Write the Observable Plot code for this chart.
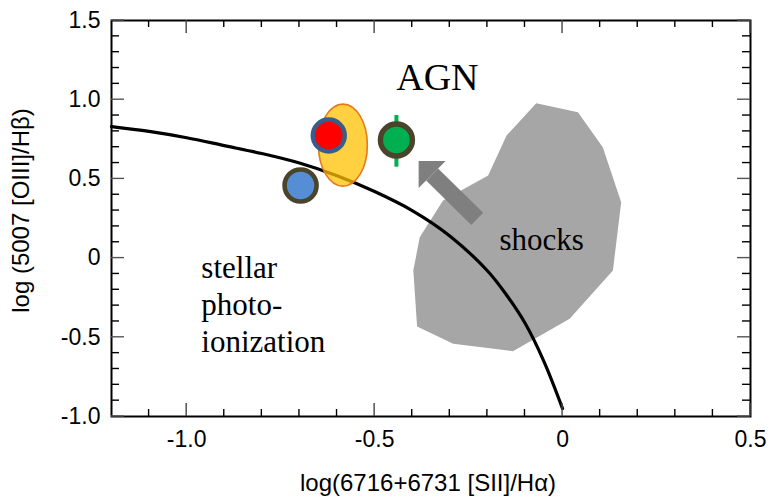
<!DOCTYPE html>
<html><head><meta charset="utf-8">
<script src="https://cdn.jsdelivr.net/npm/d3@7"></script>
<script src="https://cdn.jsdelivr.net/npm/@observablehq/plot@0.6"></script>
<style>html,body{margin:0;padding:0;background:#fff;}</style>
</head><body><div id="chart"></div>
<script>
// ---- data ----
const xTickValues = [-1.0, -0.5, 0, 0.5];
const xTickLabels = ["-1.0", "-0.5", "0", "0.5"];
const yTickValues = [-1.0, -0.5, 0, 0.5, 1.0, 1.5];
const yTickLabels = ["-1.0", "-0.5", "0", "0.5", "1.0", "1.5"];
const xMinorTicks = [-1.1, -0.9, -0.8, -0.7, -0.6, -0.4, -0.3, -0.2, -0.1, 0.1, 0.2, 0.3, 0.4];
const yMinorTicks = [-0.9, -0.8, -0.7, -0.6, -0.4, -0.3, -0.2, -0.1, 0.1, 0.2, 0.3, 0.4, 0.6, 0.7, 0.8, 0.9, 1.1, 1.2, 1.3, 1.4];

// maximum-starburst boundary
const boundaryX = [-1.2, -1.1, -1.0, -0.9, -0.8, -0.7, -0.6, -0.5, -0.4, -0.3, -0.2, -0.15, -0.1, -0.05, 0.0];
const boundaryY = [0.83, 0.80, 0.76, 0.71, 0.66, 0.60, 0.52, 0.42, 0.30, 0.14, -0.08, -0.23, -0.41, -0.65, -0.95];

// shock region outline
const shockX = [-0.070, 0.041, 0.107, 0.156, 0.134, 0.019, -0.132, -0.291, -0.387, -0.397, -0.380, -0.318, -0.198, -0.149];
const shockY = [0.978, 0.921, 0.700, 0.353, -0.078, -0.383, -0.588, -0.541, -0.432, -0.078, 0.132, 0.364, 0.521, 0.774];

// arrow (tail -> base of head)
const arrowTail = [-0.227, 0.248];
const arrowHead = [-0.347, 0.528];

// observed points
const pointNames = ["red", "blue", "green"];
const pointX = [-0.622, -0.697, -0.442];
const pointY = [0.774, 0.458, 0.746];
const greenErrY = [0.574, 0.900];

// error ellipse: center and half-axes
const ellipseCenter = [-0.583, 0.710];
const ellipseHalf = [0.065, 0.259];

// annotations
const labelText = ["AGN", "shocks", "stellar\nphoto-\nionization"];
const labelX = [-0.333, -0.168, -0.961];
const labelY = [1.064, 0.048, -0.590];

const xTitle = "log(6716+6731 [SII]/H\u03b1)";
const yTitle = "log (5007 [OIII]/H\u03b2)";

// ---- drawing ----
const shockData = shockX.map((x, i) => ({x, y: shockY[i]}));
const boundaryData = boundaryX.map((x, i) => ({x, y: boundaryY[i]}));
const points = pointNames.map((name, i) => ({name, x: pointX[i], y: pointY[i]}));
const pt = n => points.filter(d => d.name === n);

const arrowHeadSymbol = {
  draw(ctx, size) {
    const h = Math.sqrt(size / Math.PI);
    ctx.moveTo(-h, -h); ctx.lineTo(h, -h); ctx.lineTo(-h, h); ctx.closePath();
  }
};

function ellipseMark(index, scales) {
  const {x, y} = scales;
  const cx = x(ellipseCenter[0]), cy = y(ellipseCenter[1]);
  const rx = Math.abs(x(ellipseCenter[0] + ellipseHalf[0]) - cx);
  const ry = Math.abs(y(ellipseCenter[1] + ellipseHalf[1]) - cy);
  return d3.create("svg:ellipse")
    .attr("cx", cx).attr("cy", cy).attr("rx", rx).attr("ry", ry)
    .attr("fill", "#ffc000").attr("fill-opacity", 0.75)
    .attr("stroke", "#e8771e").attr("stroke-width", 1.6).node();
}

function frameTicks(index, scales, values, dims) {
  const {x, y} = scales;
  const L = dims.marginLeft, R = dims.width - dims.marginRight;
  const T = dims.marginTop, B = dims.height - dims.marginBottom;
  const g = d3.create("svg:g").attr("fill", "none").attr("stroke-width", 1.4);
  const seg = (x1, y1, x2, y2, c) => g.append("line")
    .attr("x1", x1).attr("y1", y1).attr("x2", x2).attr("y2", y2).attr("stroke", c);
  for (const v of xMinorTicks) { const p = x(v); seg(p, B, p, B - 7, "#000"); seg(p, T, p, T + 7, "#000"); }
  for (const v of xTickValues) { const p = x(v); seg(p, B, p, B - 13, "#444"); seg(p, T, p, T + 13, "#444"); }
  for (const v of yMinorTicks) { const p = y(v); seg(L, p, L + 8, p, "#000"); seg(R, p, R - 8, p, "#000"); }
  for (const v of yTickValues) { const p = y(v); seg(L, p, L + 13, p, "#555"); seg(R, p, R - 13, p, "#555"); }
  return g.node();
}

const serif = "'Liberation Serif', 'Times New Roman', serif";

const chart = Plot.plot({
  width: 773, height: 498,
  marginTop: 20, marginLeft: 111, marginRight: 23, marginBottom: 82,
  style: {fontFamily: "'Liberation Sans', Arial, sans-serif", fontSize: "23px", color: "#000", background: "#fff"},
  x: {domain: [-1.2, 0.5], ticks: xTickValues, tickFormat: d => xTickLabels[xTickValues.indexOf(d)], tickSize: 0, tickPadding: 14, label: null},
  y: {domain: [-1.0, 1.5], ticks: yTickValues, tickFormat: d => yTickLabels[yTickValues.indexOf(d)], tickSize: 0, tickPadding: 11, label: null},
  marks: [
    Plot.line(shockData, {x: "x", y: "y", curve: "linear-closed", fill: "#a6a6a6", stroke: "none"}),
    Plot.link([{x1: arrowTail[0], y1: arrowTail[1], x2: arrowHead[0], y2: arrowHead[1]}],
      {x1: "x1", y1: "y1", x2: "x2", y2: "y2", stroke: "#7f7f7f", strokeWidth: 17, strokeLinecap: "butt"}),
    Plot.dot([{x: arrowHead[0], y: arrowHead[1]}], {x: "x", y: "y", r: 13.5, symbol: arrowHeadSymbol, fill: "#7f7f7f", stroke: "none"}),
    Plot.line(boundaryData, {x: "x", y: "y", curve: "catmull-rom", stroke: "#000", strokeWidth: 3.2}),
    ellipseMark,
    Plot.ruleX(pt("green"), {x: "x", y1: () => greenErrY[0], y2: () => greenErrY[1], stroke: "#00b050", strokeWidth: 4}),
    Plot.dot(pt("blue"), {x: "x", y: "y", r: 16, fill: "#558ed5", stroke: "#4a452a", strokeWidth: 4.6}),
    Plot.dot(pt("red"), {x: "x", y: "y", r: 16, fill: "#ff0000", stroke: "#385d8a", strokeWidth: 4.4}),
    Plot.dot(pt("green"), {x: "x", y: "y", r: 16, fill: "#00b050", stroke: "#4a452a", strokeWidth: 5.4}),
    Plot.text([0], {x: () => labelX[0], y: () => labelY[0], text: () => labelText[0], fontFamily: serif, fontSize: 38, textAnchor: "middle", lineAnchor: "bottom", fill: "#000"}),
    Plot.text([1], {x: () => labelX[1], y: () => labelY[1], text: () => labelText[1], fontFamily: serif, fontSize: 31, textAnchor: "start", lineAnchor: "bottom", fill: "#000"}),
    Plot.text([2], {x: () => labelX[2], y: () => labelY[2], text: () => labelText[2], fontFamily: serif, fontSize: 31, textAnchor: "start", lineAnchor: "bottom", lineHeight: 1.19, fill: "#000"}),
    Plot.text([xTitle], {frameAnchor: "bottom", dy: 67, dx: -3, textAnchor: "middle", lineAnchor: "middle", fontSize: 24, fill: "#000"}),
    Plot.text([yTitle], {frameAnchor: "left", dx: -90, dy: -8, rotate: -90, textAnchor: "middle", lineAnchor: "middle", fontSize: 24, fill: "#000"}),
    Plot.frame({stroke: "#000", strokeWidth: 2}),
    frameTicks
  ]
});
document.getElementById("chart").appendChild(chart);
</script>
</body></html>
